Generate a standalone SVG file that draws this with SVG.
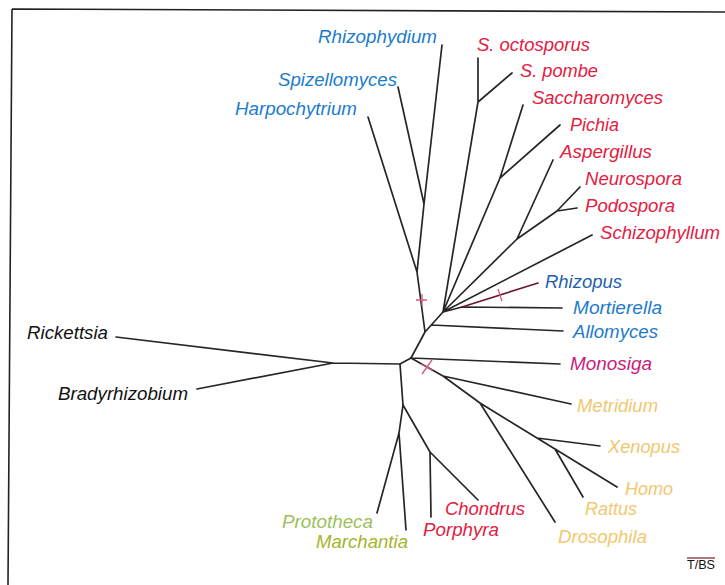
<svg xmlns="http://www.w3.org/2000/svg" width="725" height="585" viewBox="0 0 725 585">
<style>
.e{stroke:#262626;stroke-width:1.7;fill:none;stroke-linecap:round;stroke-linejoin:round}
.rz{stroke:#6a1a2c;stroke-width:1.7;fill:none;stroke-linecap:round}
.tk{stroke:#d8587a;stroke-width:1.3;fill:none}
.fr{stroke:#222;stroke-width:1.6;fill:none}
text{font-family:"Liberation Sans",Arial,sans-serif;font-size:18px;font-style:italic}
.bl{fill:#1b7ccc}.bd{fill:#1f5fae}.rd{fill:#e3203f}.mg{fill:#c71d7a}.yl{fill:#f2c76e}
.gr1{fill:#9cbf5a}.gr2{fill:#a4b52a}.bk{fill:#111}
</style>
<path class="fr" d="M12 9 L725 12 M12 9 L8 585"/>
<g id="connectors">
<path class="e" d="M116 337 L333 363 M197 389 L333 363 L400 364 L411 358 M400 364 L403 405"/>
<path class="e" d="M403 405 L430 452 L478 500 M430 452 L431 517 M403 405 L399 433 L377 513 M399 433 L406 530"/>
<path class="e" d="M411 358 L560 364 M411 358 L443 376 L571 404 M443 376 L480 403 L555 522 M480 403 L537 438 L600 446 M537 438 L555 449 L617 487 M555 449 L583 497"/>
<path class="e" d="M411 358 L425 332 L443 312 M431 325 L563 331 M425 332 L417 272 L368 117 M417 272 L424 204 L442 45 M424 204 L398 87"/>
<path class="e" d="M443 312 L462 307 L562 308 M443 312 L592 235 M443 312 L517 239 L553 160 M517 239 L557 211 L580 187 M557 211 L577 208 M443 312 L500 178 L523 105 M500 178 L560 125 M443 312 L478 102 L478 58 M478 102 L512 73"/>
<path class="rz" d="M462 307 L538 283"/>
<path class="tk" d="M416 300 L427 300 M422 294 L422 306"/>
<path class="tk" d="M422 374 L432 360 M421 364 L433 370"/>
<path class="tk" d="M498 289 L502 301"/>
</g>
<g id="n-rhizophydium"><text class="bl" x="318" y="43" textLength="119" lengthAdjust="spacingAndGlyphs">Rhizophydium</text></g>
<g id="n-spizellomyces"><text class="bl" x="278" y="86" textLength="119" lengthAdjust="spacingAndGlyphs">Spizellomyces</text></g>
<g id="n-harpochytrium"><text class="bl" x="235" y="115" textLength="122" lengthAdjust="spacingAndGlyphs">Harpochytrium</text></g>
<g id="n-soctosporus"><text class="rd" x="477" y="51" textLength="113" lengthAdjust="spacingAndGlyphs">S. octosporus</text></g>
<g id="n-spombe"><text class="rd" x="520" y="77" textLength="78" lengthAdjust="spacingAndGlyphs">S. pombe</text></g>
<g id="n-saccharomyces"><text class="rd" x="532" y="104" textLength="131" lengthAdjust="spacingAndGlyphs">Saccharomyces</text></g>
<g id="n-pichia"><text class="rd" x="570" y="131" textLength="49" lengthAdjust="spacingAndGlyphs">Pichia</text></g>
<g id="n-aspergillus"><text class="rd" x="560" y="158" textLength="92" lengthAdjust="spacingAndGlyphs">Aspergillus</text></g>
<g id="n-neurospora"><text class="rd" x="585" y="185" textLength="97" lengthAdjust="spacingAndGlyphs">Neurospora</text></g>
<g id="n-podospora"><text class="rd" x="585" y="212" textLength="90" lengthAdjust="spacingAndGlyphs">Podospora</text></g>
<g id="n-schizophyllum"><text class="rd" x="600" y="239" textLength="120" lengthAdjust="spacingAndGlyphs">Schizophyllum</text></g>
<g id="n-rhizopus"><text class="bd" x="545" y="288" textLength="77" lengthAdjust="spacingAndGlyphs">Rhizopus</text></g>
<g id="n-mortierella"><text class="bl" x="573" y="314" textLength="89" lengthAdjust="spacingAndGlyphs">Mortierella</text></g>
<g id="n-allomyces"><text class="bl" x="573" y="338" textLength="85" lengthAdjust="spacingAndGlyphs">Allomyces</text></g>
<g id="n-monosiga"><text class="mg" x="570" y="370" textLength="82" lengthAdjust="spacingAndGlyphs">Monosiga</text></g>
<g id="n-metridium"><text class="yl" x="577" y="412" textLength="81" lengthAdjust="spacingAndGlyphs">Metridium</text></g>
<g id="n-xenopus"><text class="yl" x="608" y="453" textLength="72" lengthAdjust="spacingAndGlyphs">Xenopus</text></g>
<g id="n-homo"><text class="yl" x="625" y="495" textLength="48" lengthAdjust="spacingAndGlyphs">Homo</text></g>
<g id="n-rattus"><text class="yl" x="585" y="515" textLength="52" lengthAdjust="spacingAndGlyphs">Rattus</text></g>
<g id="n-drosophila"><text class="yl" x="558" y="543" textLength="89" lengthAdjust="spacingAndGlyphs">Drosophila</text></g>
<g id="n-chondrus"><text class="rd" x="445" y="515" textLength="80" lengthAdjust="spacingAndGlyphs">Chondrus</text></g>
<g id="n-porphyra"><text class="rd" x="423" y="536" textLength="76" lengthAdjust="spacingAndGlyphs">Porphyra</text></g>
<g id="n-prototheca"><text class="gr1" x="282" y="528" textLength="91" lengthAdjust="spacingAndGlyphs">Prototheca</text></g>
<g id="n-marchantia"><text class="gr2" x="316" y="548" textLength="92" lengthAdjust="spacingAndGlyphs">Marchantia</text></g>
<g id="n-rickettsia"><text class="bk" x="27" y="339" textLength="81" lengthAdjust="spacingAndGlyphs">Rickettsia</text></g>
<g id="n-bradyrhizobium"><text class="bk" x="58" y="400" textLength="130" lengthAdjust="spacingAndGlyphs">Bradyrhizobium</text></g>
<g id="credit">
<line x1="687" y1="558" x2="715" y2="558" stroke="#7a1a2a" stroke-width="1.2"/>
<text x="687" y="569" style="font-style:normal;font-size:12px" fill="#111" textLength="28" lengthAdjust="spacingAndGlyphs">T/BS</text>
</g>
</svg>
